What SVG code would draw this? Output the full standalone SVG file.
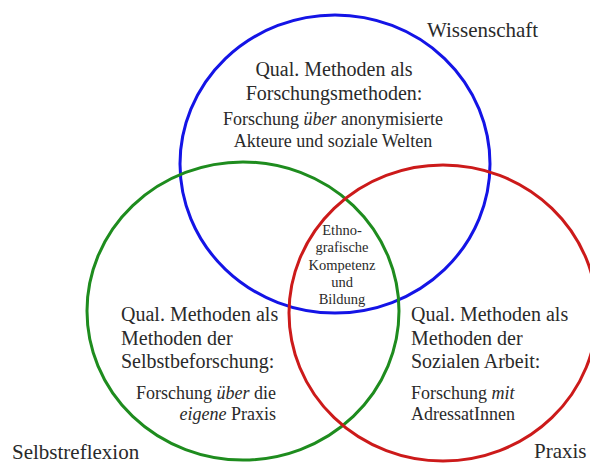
<svg xmlns="http://www.w3.org/2000/svg" width="590" height="463" viewBox="0 0 590 463">
<style>
  .c { fill: none; stroke-width: 3; }
  text { font-family: "Liberation Serif", "Times New Roman", serif; fill: #2a2a2a; }
  .lbl { font-size: 21px; }
  .h { font-size: 20px; }
  .s { font-size: 18px; }
  .m { font-size: 14.5px; }
  .mid { text-anchor: middle; }
  .end { text-anchor: end; }
  .i { font-style: italic; }
</style>
<rect width="590" height="463" fill="#ffffff"/>
<g id="connectors"></g>
<g id="wissenschaft">
  <ellipse class="c" cx="335" cy="164" rx="155" ry="149" stroke="#1414e6"/>
  <text class="lbl" x="427" y="37">Wissenschaft</text>
  <text class="h mid" x="334" y="76">Qual. Methoden als</text>
  <text class="h mid" x="334" y="100">Forschungsmethoden:</text>
  <text class="s mid" x="333" y="125">Forschung <tspan class="i">über</tspan> anonymisierte</text>
  <text class="s mid" x="333" y="147">Akteure und soziale Welten</text>
</g>
<g id="selbstreflexion">
  <ellipse class="c" cx="243" cy="311" rx="156" ry="149" stroke="#1e8c1e"/>
  <text class="lbl" x="12" y="459">Selbstreflexion</text>
  <text class="h" x="121" y="321">Qual. Methoden als</text>
  <text class="h" x="121" y="345">Methoden der</text>
  <text class="h" x="121" y="368">Selbstbeforschung:</text>
  <text class="s end" x="276" y="399">Forschung <tspan class="i">über</tspan> die</text>
  <text class="s end" x="276" y="420"><tspan class="i">eigene</tspan> Praxis</text>
</g>
<g id="praxis">
  <ellipse class="c" cx="443" cy="313" rx="154" ry="148" stroke="#cc1a1a"/>
  <text class="lbl" x="534" y="458">Praxis</text>
  <text class="h" x="411" y="321">Qual. Methoden als</text>
  <text class="h" x="411" y="345">Methoden der</text>
  <text class="h" x="411" y="368">Sozialen Arbeit:</text>
  <text class="s" x="411" y="399">Forschung <tspan class="i">mit</tspan></text>
  <text class="s" x="411" y="420">AdressatInnen</text>
</g>
<g id="zentrum">
  <text class="m mid" x="342" y="235">Ethno-</text>
  <text class="m mid" x="342" y="252">grafische</text>
  <text class="m mid" x="342" y="270">Kompetenz</text>
  <text class="m mid" x="342" y="287">und</text>
  <text class="m mid" x="342" y="304">Bildung</text>
</g>
</svg>
